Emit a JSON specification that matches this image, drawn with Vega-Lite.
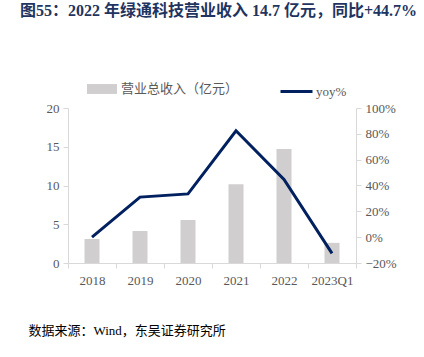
{
  "$schema": "https://vega.github.io/schema/vega-lite/v6.json",
  "width": 288,
  "height": 155,
  "autosize": {"type": "none"},
  "padding": {"left": 68, "top": 108, "right": 68, "bottom": 94},
  "background": "white",
  "config": {
    "view": {"stroke": null},
    "font": "Liberation Serif, Noto Sans CJK SC, serif",
    "axis": {"labelFont": "Liberation Serif, Noto Sans CJK SC, serif", "labelFontSize": 13, "labelColor": "#595959", "domainColor": "#d9d9d9", "tickColor": "#d9d9d9", "grid": false},
    "legend": {"labelFont": "Liberation Serif, Noto Sans CJK SC, serif", "labelFontSize": 13, "labelColor": "#595959"}
  },
  "title": {
    "text": "图55：2022 年绿通科技营业收入 14.7 亿元，同比+44.7%",
    "anchor": "start",
    "frame": "group",
    "dx": -48,
    "offset": 55,
    "font": "Liberation Serif, Noto Sans CJK SC, serif",
    "fontSize": 16,
    "fontWeight": "bold",
    "color": "#1f3460"
  },
  "data": {
    "values": [
      {"period": "2018", "revenue": 3.1, "yoy": 0.0},
      {"period": "2019", "revenue": 4.13, "yoy": 0.31},
      {"period": "2020", "revenue": 5.55, "yoy": 0.335},
      {"period": "2021", "revenue": 10.15, "yoy": 0.824},
      {"period": "2022", "revenue": 14.7, "yoy": 0.447},
      {"period": "2023Q1", "revenue": 2.6, "yoy": -0.125}
    ]
  },
  "encoding": {
    "x": {
      "field": "period",
      "type": "nominal",
      "sort": null,
      "scale": {"paddingInner": 0, "paddingOuter": 0},
      "axis": {
        "labelAngle": 0,
        "tickBand": "extent",
        "tickSize": 5,
        "labelPadding": 6,
        "title": "数据来源：Wind，东吴证券研究所",
        "titleX": -40,
        "titleY": 67,
        "titleAlign": "left",
        "titleBaseline": "middle",
        "titleFont": "Liberation Serif, Noto Sans CJK SC, serif",
        "titleFontSize": 13,
        "titleFontWeight": "normal",
        "titleColor": "#000000"
      }
    }
  },
  "layer": [
    {
      "mark": {"type": "bar", "width": 15, "color": "#d0cece"},
      "encoding": {
        "y": {
          "field": "revenue",
          "type": "quantitative",
          "scale": {"domain": [0, 20]},
          "axis": {"values": [0, 5, 10, 15, 20], "title": null, "tickSize": 5, "labelPadding": 4}
        },
        "fill": {
          "datum": "营业总收入（亿元）",
          "scale": {"range": ["#d0cece"]},
          "legend": {
            "title": null,
            "orient": "none",
            "legendX": 19,
            "legendY": -34,
            "symbolType": "M-1,-0.33H1V0.33H-1Z",
            "symbolSize": 900,
            "symbolStrokeWidth": 0
          }
        }
      }
    },
    {
      "mark": {"type": "line", "color": "#002060", "strokeWidth": 3},
      "encoding": {
        "y": {
          "field": "yoy",
          "type": "quantitative",
          "scale": {"domain": [-0.2, 1.0]},
          "axis": {"orient": "right", "values": [-0.2, 0, 0.2, 0.4, 0.6, 0.8, 1.0], "format": ".0%", "title": null, "tickSize": 5, "labelPadding": 4}
        },
        "stroke": {
          "datum": "yoy%",
          "scale": {"range": ["#002060"]},
          "legend": {
            "title": null,
            "orient": "none",
            "legendX": 211,
            "legendY": -34,
            "labelOffset": 2,
            "symbolType": "stroke",
            "symbolSize": 1024,
            "symbolStrokeWidth": 3
          }
        }
      }
    }
  ],
  "resolve": {"scale": {"y": "independent"}}
}
